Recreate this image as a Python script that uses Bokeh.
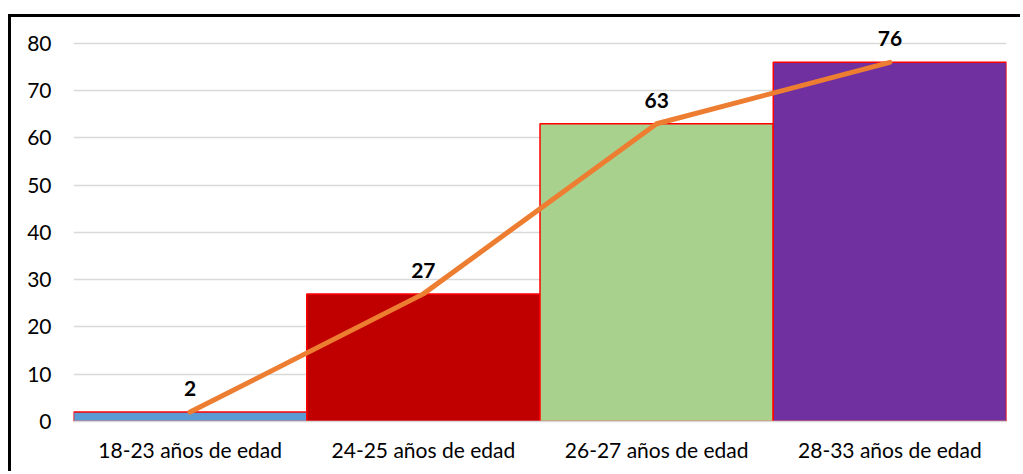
from bokeh.plotting import figure
from bokeh.models import FactorRange, Range1d, FixedTicker, ColumnDataSource
from bokeh.core.properties import value
from bokeh.embed import file_html
from bokeh.resources import INLINE

categories = ["18-23 años de edad", "24-25 años de edad", "26-27 años de edad", "28-33 años de edad"]
counts = [2, 27, 63, 76]
bar_colors = ["#5B9BD5", "#C00000", "#A9D18E", "#7030A0"]
y_ticks = [0, 10, 20, 30, 40, 50, 60, 70, 80]

src = ColumnDataSource(dict(cat=categories, val=counts, color=bar_colors,
                            lbl=[str(v) for v in counts]))

p = figure(x_range=FactorRange(factors=categories, range_padding=0),
           y_range=Range1d(0, 84), width=1012, height=457,
           output_backend="svg", toolbar_location=None,
           min_border_left=62, min_border_right=17, min_border_top=7, min_border_bottom=53)
p.styles = {"border-top": "3px solid black", "border-left": "3px solid black",
            "margin-top": "14px", "margin-left": "8px"}

p.vbar(x="cat", top="val", width=1.0, source=src, fill_color="color",
       line_color="#FF0000", line_width=1.5)
p.line(x="cat", y="val", source=src, line_color="#ED7D31", line_width=5, line_cap="round", line_join="round")
p.text(x="cat", y="val", text="lbl", source=src, text_align="center", text_baseline="bottom",
       y_offset=-16, text_font=value("Lato"), text_font_style="bold", text_font_size="21px",
       text_color="#000000")

p.outline_line_color = None
p.xgrid.grid_line_color = None
p.ygrid.grid_line_color = "#D9D9D9"
p.ygrid.grid_line_width = 1.5
p.yaxis.ticker = FixedTicker(ticks=y_ticks)
p.yaxis.axis_line_color = None
p.yaxis.major_tick_line_color = None
p.yaxis.minor_tick_line_color = None
p.yaxis.major_tick_out = 0
p.yaxis.major_label_standoff = 22
p.xaxis.axis_line_color = "#D9D9D9"
p.xaxis.axis_line_width = 1.5
p.xaxis.major_tick_line_color = None
p.xaxis.major_tick_out = 0
p.xaxis.major_label_standoff = 15
for ax in (p.xaxis, p.yaxis):
    ax.major_label_text_font = "Lato"
    ax.major_label_text_font_size = "21px"
    ax.major_label_text_color = "#000000"

open("out.html", "w").write(file_html(p, INLINE))
